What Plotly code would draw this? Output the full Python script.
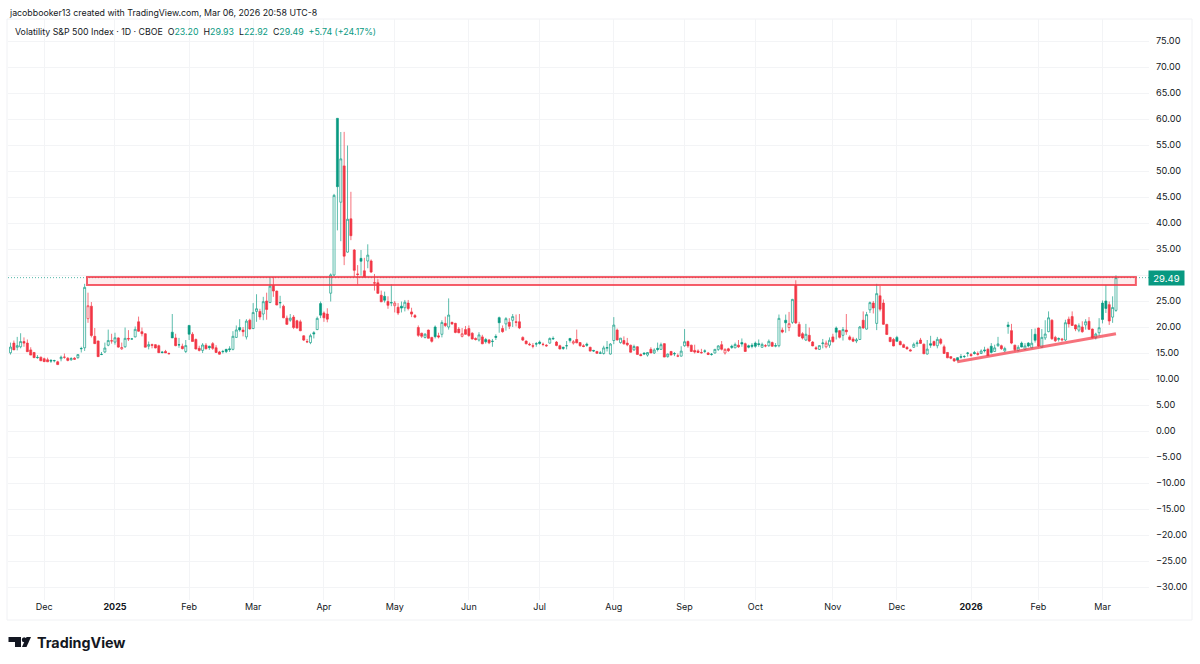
import pandas as pd
import plotly.graph_objects as go

# daily VIX candles, one line per month, Nov 15 2024 -> Mar 6 2026
opens = [
    15.05, 16.9, 16.1, 16.2, 17.2, 16.9, 15.6, 15.1, 14.1, 14.2,
    13.9, 13.7, 13.6, 13.5, 13.3, 13.9, 14.2, 14.0, 13.7, 14.0, 14.1, 15.8, 16.0, 21.6, 24.0, 18.2, 17.3, 14.7, 15.2, 16.5, 17.3,
    17.1, 17.9, 15.8, 16.2, 17.8, 17.7, 18.1, 21.0, 19.1, 18.7, 16.3, 16.6, 16.6, 16.4, 15.2, 15.3, 14.9, 19.0, 17.9, 16.6, 16.3, 15.3,
    20.3, 18.6, 17.6, 15.9, 15.5, 16.5, 16.3, 16.8, 16.0, 15.2, 15.3, 15.7, 15.8, 15.7, 18.0, 19.9, 19.4, 18.1, 21.3,
    19.7, 23.0, 23.0, 22.5, 25.0, 24.7, 28.0, 26.9, 24.7, 24.0, 21.7, 21.3, 21.9, 21.2, 21.0, 18.3, 17.2, 17.0, 18.9, 19.5, 24.5,
    22.7, 22.5, 26.5, 30.0, 60.13, 44.0, 50.98, 34.4, 40.8, 34.8, 30.2, 33.2, 30.8, 32.7, 32.7, 28.5, 28.5, 26.1, 25.9, 24.9, 24.6,
    24.1, 23.8, 24.0, 23.7, 24.6, 22.9, 22.2, 19.9, 18.8, 18.0, 19.4, 18.0, 20.0, 18.3, 18.6, 20.7, 20.0, 20.9, 20.7, 19.6, 18.2, 19.5,
    19.7, 18.8, 17.8, 17.5, 18.1, 17.6, 17.5, 17.2, 18.2, 21.8, 19.7, 20.6, 20.9, 21.3, 21.0, 21.0, 18.0, 17.3, 16.7, 16.4, 16.8,
    17.1, 16.7, 16.5, 16.9, 17.7, 17.1, 16.4, 16.1, 16.4, 17.8, 16.9, 17.6, 17.0, 16.4, 16.7, 16.1, 15.5, 15.3, 14.9, 14.9, 15.9, 14.8,
    17.4, 19.4, 17.0, 17.4, 16.9, 16.5, 15.6, 16.2, 14.7, 15.0, 14.6, 15.7, 15.0, 15.9, 15.7, 16.8, 14.3, 15.3, 14.9, 14.4, 14.4,
    16.4, 17.2, 16.5, 15.5, 15.4, 15.1, 15.4, 15.0, 14.7, 15.0, 15.7, 16.6, 15.0, 15.8, 16.3, 16.0, 16.5, 17.0, 16.8, 16.4, 16.5,
    16.9, 16.8, 16.1, 16.4, 16.4, 17.0, 16.3, 16.4, 19.4, 21.3, 19.9, 20.9, 28.0, 20.5, 18.7, 17.5, 18.4, 17.1, 16.0, 15.7, 16.8, 16.2, 16.5,
    18.1, 19.8, 19.3, 18.4, 19.4, 18.1, 17.7, 17.3, 17.6, 21.3, 19.6, 23.3, 24.6, 20.7, 26.0, 24.6, 20.5, 18.0, 17.6,
    18.0, 17.2, 16.6, 16.1, 15.6, 16.1, 16.8, 17.5, 16.7, 14.8, 16.8, 17.2, 16.4, 17.6, 16.2, 15.1, 14.3, 13.9, 14.1, 14.3, 14.3, 15.0,
    14.7, 15.1, 14.9, 14.9, 15.6, 15.7, 16.3, 15.3, 16.4, 16.4, 15.4, 20.4, 19.3, 16.5, 15.5, 16.9, 15.7, 16.9, 16.0, 18.6,
    19.8, 16.1, 17.9, 19.1, 21.3, 18.0, 17.6, 17.5, 17.5, 21.5, 22.0, 20.4, 19.4, 20.0, 20.4, 21.1, 19.6, 17.95, 18.9,
    24.6, 25.0, 24.3, 21.9, 23.20,
]
highs = [
    17.0, 17.4, 18.1, 18.8, 18.0, 17.6, 16.1, 15.2, 14.6, 14.3,
    14.1, 14.1, 13.8, 13.7, 13.5, 14.5, 14.9, 14.2, 14.2, 14.2, 14.8, 16.2, 28.3, 26.6, 24.8, 19.8, 17.4, 15.2, 17.0, 19.5, 18.7,
    18.9, 18.0, 17.0, 19.9, 19.4, 17.8, 20.1, 22.0, 19.9, 18.8, 17.2, 16.8, 16.7, 16.6, 15.4, 15.6, 15.1, 22.5, 18.7, 17.9, 16.8, 17.5,
    20.4, 19.0, 17.8, 16.4, 16.9, 16.9, 16.4, 17.1, 16.5, 15.4, 15.6, 15.8, 16.3, 19.2, 20.3, 21.5, 20.0, 21.5, 21.6,
    24.6, 26.3, 23.5, 25.8, 26.6, 29.6, 29.6, 27.0, 26.0, 24.3, 22.2, 22.5, 22.3, 21.4, 21.4, 18.4, 17.7, 18.7, 19.2, 22.0, 24.9,
    23.0, 23.6, 30.3, 45.6, 60.13, 57.5, 57.52, 54.9, 46.0, 35.0, 31.9, 34.8, 33.3, 35.9, 33.0, 30.2, 29.2, 27.0, 26.8, 25.9, 28.2,
    25.0, 24.6, 24.9, 25.2, 25.2, 23.7, 22.5, 20.3, 18.9, 18.8, 19.5, 18.1, 20.3, 18.9, 21.3, 22.0, 25.5, 21.0, 20.8, 20.0, 19.8, 20.2,
    20.3, 19.0, 18.0, 19.0, 18.5, 17.9, 17.7, 17.7, 18.6, 22.0, 20.3, 21.9, 21.7, 22.5, 22.4, 22.5, 18.2, 17.4, 17.0, 16.9, 17.1,
    17.4, 17.0, 16.7, 18.0, 18.2, 17.3, 16.6, 16.2, 17.3, 17.9, 17.5, 19.5, 17.1, 16.7, 17.0, 16.2, 15.6, 15.4, 15.4, 16.4, 17.3, 16.9,
    21.9, 19.7, 17.9, 18.2, 17.9, 16.6, 16.6, 16.3, 14.9, 15.1, 15.2, 16.1, 15.9, 17.0, 17.0, 16.9, 14.9, 15.4, 15.2, 14.9, 16.3,
    19.6, 17.4, 16.6, 16.6, 15.7, 15.8, 15.7, 15.2, 15.0, 15.8, 16.5, 17.3, 15.9, 16.0, 16.6, 17.0, 17.5, 17.8, 17.0, 16.6, 16.9,
    17.2, 17.6, 17.0, 16.7, 17.6, 17.2, 16.9, 22.4, 19.9, 22.4, 22.9, 25.4, 28.99, 21.0, 19.0, 20.6, 19.9, 17.3, 16.3, 16.5, 17.7, 17.4, 18.0,
    18.7, 20.1, 19.4, 20.0, 22.5, 18.4, 18.1, 17.9, 20.2, 23.0, 22.9, 24.9, 25.0, 28.3, 27.9, 25.3, 20.6, 18.1, 17.9,
    18.3, 17.4, 16.8, 16.3, 15.8, 17.0, 17.4, 17.9, 16.8, 17.5, 18.3, 17.4, 18.1, 17.9, 16.6, 15.2, 14.4, 14.0, 14.2, 14.8, 14.6, 15.2,
    15.0, 15.4, 15.3, 15.7, 16.2, 16.0, 16.9, 16.6, 18.1, 16.6, 16.2, 21.0, 20.6, 16.6, 16.5, 17.2, 16.9, 17.1, 19.6, 19.7,
    19.9, 19.6, 21.3, 23.0, 21.5, 18.3, 18.0, 17.9, 21.4, 22.0, 23.0, 20.5, 20.7, 21.1, 21.5, 21.9, 19.7, 18.9, 21.7,
    25.1, 28.1, 24.9, 25.9, 29.93,
]
lows = [
    14.7, 15.6, 15.5, 15.9, 16.2, 15.2, 14.6, 14.1, 13.9, 13.5,
    13.3, 13.3, 13.1, 13.2, 12.7, 13.4, 13.9, 13.4, 13.5, 13.7, 13.9, 15.1, 15.4, 20.8, 18.0, 16.8, 14.3, 14.6, 15.0, 16.3, 16.8,
    16.6, 16.0, 15.6, 16.0, 17.3, 17.6, 18.0, 19.1, 18.2, 16.1, 15.7, 15.9, 15.9, 15.0, 14.9, 15.0, 14.8, 17.9, 16.3, 16.0, 15.7, 15.0,
    17.5, 17.2, 15.7, 15.3, 15.0, 15.7, 15.6, 15.6, 15.0, 14.7, 14.9, 15.0, 15.2, 15.5, 17.9, 19.1, 18.2, 17.6, 19.5,
    19.6, 21.0, 21.4, 21.3, 21.4, 24.6, 25.8, 24.2, 23.6, 21.7, 20.4, 21.0, 19.6, 19.7, 19.2, 17.3, 16.9, 16.7, 17.8, 19.4, 21.7,
    21.0, 20.9, 24.9, 29.8, 38.58, 36.5, 31.9, 34.3, 36.7, 29.6, 28.2, 29.9, 29.5, 31.3, 30.4, 27.0, 26.4, 24.8, 24.7, 23.5, 24.0,
    22.8, 22.3, 22.8, 23.0, 23.2, 21.9, 21.7, 18.1, 17.9, 17.8, 17.8, 17.0, 17.8, 17.8, 18.0, 20.0, 19.5, 20.4, 18.8, 18.8, 18.0, 18.5,
    18.1, 17.6, 17.4, 17.2, 16.7, 16.8, 16.7, 16.2, 17.5, 18.9, 18.9, 19.3, 19.6, 20.0, 20.1, 19.6, 17.3, 16.7, 16.4, 15.9, 16.2,
    16.6, 16.3, 16.2, 16.8, 17.5, 16.3, 15.7, 15.6, 15.7, 17.0, 16.6, 16.9, 16.2, 16.1, 16.2, 15.3, 15.2, 14.9, 14.8, 14.7, 15.3, 14.7,
    16.7, 17.4, 16.8, 16.6, 16.3, 15.1, 15.4, 14.7, 14.4, 14.6, 14.3, 15.0, 14.8, 15.3, 15.6, 14.2, 14.1, 14.5, 14.4, 14.2, 14.3,
    16.2, 16.0, 15.2, 14.9, 15.0, 14.9, 15.0, 14.6, 14.5, 14.9, 15.4, 15.5, 14.7, 15.2, 15.8, 15.9, 16.0, 16.2, 15.3, 15.9, 15.9,
    16.0, 16.2, 16.0, 16.1, 16.2, 16.2, 16.1, 16.1, 18.8, 18.9, 19.2, 20.6, 20.6, 18.1, 17.6, 17.3, 17.1, 16.3, 15.7, 15.6, 15.9, 15.9, 16.0,
    17.0, 17.6, 17.8, 17.4, 18.5, 17.4, 17.1, 16.9, 17.5, 19.6, 19.5, 22.7, 22.6, 19.4, 23.0, 20.4, 18.5, 17.1, 16.3,
    17.2, 16.5, 16.0, 15.7, 15.3, 16.0, 16.2, 16.9, 14.8, 14.7, 16.0, 16.3, 15.9, 16.6, 14.8, 14.0, 13.8, 13.3, 13.4, 13.9, 14.0, 14.3,
    14.3, 14.7, 14.5, 14.8, 15.1, 14.4, 14.9, 15.2, 16.2, 15.6, 15.2, 18.7, 16.7, 15.3, 15.3, 16.1, 15.6, 16.1, 15.9, 17.0,
    16.2, 16.0, 17.5, 19.0, 17.5, 17.1, 17.2, 17.2, 17.3, 19.9, 20.2, 19.2, 19.0, 18.9, 19.5, 19.4, 17.8, 17.6, 18.3,
    20.7, 22.7, 20.4, 20.8, 22.92,
]
closes = [
    16.14, 15.6, 16.4, 17.2, 16.9, 15.25, 14.6, 14.1, 14.15, 13.5,
    13.34, 13.3, 13.45, 13.54, 12.77, 14.19, 14.18, 13.58, 13.92, 13.81, 14.69, 15.87, 27.62, 24.09, 18.36, 16.8, 14.3, 14.73, 15.95, 17.4, 17.35,
    17.93, 16.13, 16.04, 17.82, 17.7, 17.7, 19.54, 19.19, 18.71, 16.12, 16.6, 16.5, 15.97, 15.06, 15.1, 15.02, 14.85, 17.9, 16.41, 16.56, 15.84, 16.43,
    18.62, 17.21, 15.77, 15.5, 16.54, 15.81, 16.02, 15.89, 15.1, 14.77, 15.27, 15.27, 15.66, 18.21, 19.43, 19.43, 19.1, 21.13, 19.63,
    22.78, 23.51, 21.93, 24.87, 23.37, 27.86, 26.92, 24.23, 24.66, 21.77, 20.51, 21.7, 19.9, 19.8, 19.28, 17.48, 17.15, 18.33, 18.69, 21.65, 22.28,
    21.77, 21.51, 30.02, 45.31, 46.98, 52.33, 33.62, 40.72, 37.56, 30.89, 30.12, 32.64, 29.65, 33.82, 30.57, 28.45, 26.47, 24.84, 25.15, 24.17, 24.7,
    24.6, 22.68, 23.64, 24.76, 23.55, 22.48, 21.9, 18.39, 18.22, 18.62, 17.83, 17.24, 18.14, 18.09, 20.87, 20.28, 22.29, 20.6, 18.96, 18.9, 18.7, 18.6,
    18.36, 17.69, 17.61, 18.48, 16.77, 17.16, 16.95, 17.26, 18.02, 20.82, 19.11, 21.6, 20.14, 22.0, 20.9, 19.83, 17.48, 16.76, 16.59, 16.32, 16.73,
    16.83, 16.64, 16.38, 17.79, 17.8, 16.45, 15.78, 15.9, 16.4, 17.38, 17.16, 16.95, 16.41, 16.25, 16.5, 15.37, 15.39, 14.93, 15.03, 15.98, 16.05, 16.72,
    20.37, 17.52, 17.85, 16.77, 16.57, 15.15, 16.25, 14.73, 14.49, 14.83, 15.09, 15.0, 15.57, 15.69, 16.6, 14.22, 14.79, 14.62, 14.85, 14.43, 15.36,
    17.17, 16.35, 15.3, 15.18, 15.11, 15.04, 15.35, 14.71, 14.76, 15.69, 16.36, 15.72, 15.7, 15.45, 16.1, 16.64, 16.18, 16.74, 15.29, 16.12, 16.28,
    16.29, 16.63, 16.65, 16.37, 17.24, 16.3, 16.43, 21.66, 19.03, 20.81, 20.64, 25.31, 20.78, 18.23, 17.87, 18.6, 17.3, 16.37, 15.79, 16.42, 16.92, 16.91, 17.44,
    17.17, 19.0, 18.01, 19.5, 19.08, 17.6, 17.28, 17.51, 20.0, 19.83, 22.38, 24.69, 23.66, 26.42, 23.43, 20.52, 18.56, 17.19, 16.35,
    17.24, 16.59, 16.08, 15.78, 15.41, 16.66, 16.93, 16.85, 14.85, 15.74, 16.5, 16.48, 17.62, 16.87, 14.91, 14.08, 14.0, 13.47, 13.6, 14.2, 14.33, 14.95,
    14.51, 14.9, 14.75, 15.38, 15.45, 14.49, 15.12, 15.98, 16.75, 15.84, 15.86, 20.09, 16.9, 15.64, 16.09, 16.15, 16.35, 16.35, 16.88, 17.44,
    16.34, 18.0, 18.64, 21.77, 17.76, 17.36, 17.79, 17.65, 20.82, 20.6, 20.29, 19.62, 20.23, 19.09, 21.01, 19.55, 17.93, 18.63, 19.86,
    21.44, 23.57, 21.15, 23.75, 29.49,
]

# days the index did not print a bar
closed_days = ["2024-11-28", "2024-12-25", "2025-01-01", "2025-02-17", "2025-04-18", "2025-07-04",
               "2025-09-01", "2025-11-27", "2025-12-25", "2026-01-01", "2026-01-19", "2026-02-16"]

month_starts = ["2024-12-02", "2025-01-02", "2025-02-03", "2025-03-03", "2025-04-01", "2025-05-01", "2025-06-02", "2025-07-01",
                "2025-08-01", "2025-09-02", "2025-10-01", "2025-11-03", "2025-12-01", "2026-01-02", "2026-02-02", "2026-03-02"]
month_labels = ["Dec", "<b>2025</b>", "Feb", "Mar", "Apr", "May", "Jun", "Jul",
                "Aug", "Sep", "Oct", "Nov", "Dec", "<b>2026</b>", "Feb", "Mar"]
price_ticks = list(range(-30, 80, 5))

# drawn levels on the chart
zone_low, zone_high = 28.1, 29.6
zone_bars = (22.7, 333.9)
trend_values = (13.3, 18.7)
trend_bars = (280.9, 328)

UP = "#089981"
DOWN = "#F23645"
UP_LINE = "rgba(8,153,129,0.65)"
DOWN_LINE = "rgba(242,54,69,0.7)"
INK = "#131722"
GRID = "#F3F4F6"
FONT = "Inter"

# plot box in picture pixels
LEFT, RIGHT, TOP, BOTTOM = 8, 1149, 19, 600


def paper_x(px):
    return (px - LEFT) / (RIGHT - LEFT)


def paper_y(py):
    return (BOTTOM - py) / (BOTTOM - TOP)


def logo_path(points):
    return "M" + " L".join(f"{paper_x(x):.5f},{paper_y(y):.5f}" for x, y in points) + " Z"


def price_label(v):
    # the 30.00 label sits under the last price tag
    if v == 30:
        return ""
    return f"{v:.2f}".replace("-", "\u2212")


days = pd.bdate_range("2024-11-15", "2026-03-06")
days = days[~days.isin(pd.to_datetime(closed_days))]
df = pd.DataFrame({"date": days.strftime("%Y-%m-%d"), "open": opens, "high": highs, "low": lows, "close": closes})
df["prev"] = df["close"].shift(1).fillna(df["open"])

fig = go.Figure()
# hollow when close > open, colour from close vs previous close
for rising, colour, line in [(True, UP, UP_LINE), (False, DOWN, DOWN_LINE)]:
    part = df[(df["close"] >= df["prev"]) == rising]
    fig.add_trace(go.Candlestick(
        x=part["date"], open=part["open"], high=part["high"], low=part["low"], close=part["close"],
        increasing=dict(line=dict(color=line, width=1), fillcolor="rgba(255,255,255,0)"),
        decreasing=dict(line=dict(color=line, width=1), fillcolor=colour),
        showlegend=False,
    ))

fig.update_layout(
    width=1200, height=664, autosize=False,
    margin=dict(l=LEFT, r=1200 - RIGHT, t=TOP, b=664 - BOTTOM, autoexpand=False),
    paper_bgcolor="white", plot_bgcolor="white",
    font=dict(family=FONT, size=9, color=INK),
    boxgap=0.15, showlegend=False,
)
fig.update_xaxes(
    type="category", categoryorder="array", categoryarray=list(df["date"]),
    range=[-0.74, 337.8], rangeslider_visible=False,
    tickmode="array", tickvals=month_starts, ticktext=month_labels,
    showgrid=True, gridcolor=GRID, gridwidth=1, zeroline=False, showline=False, ticks="",
    tickangle=0, tickfont=dict(family=FONT, size=9, color=INK),
)
fig.update_yaxes(
    side="right", range=[(431 - BOTTOM) / 5.2, (431 - TOP) / 5.2],
    tickmode="array", tickvals=price_ticks, ticktext=[price_label(v) for v in price_ticks],
    showgrid=True, gridcolor=GRID, gridwidth=1, zeroline=False, showline=False, ticks="",
    ticklabelstandoff=6, tickfont=dict(family=FONT, size=9.2, color=INK),
)

# frame round plot and both axes
fig.add_shape(type="rect", xref="paper", yref="paper", layer="below",
              x0=paper_x(7), x1=paper_x(1192), y0=paper_y(620), y1=paper_y(19),
              line=dict(color="#F0F1F4", width=1), fillcolor="rgba(0,0,0,0)")
# last price line
fig.add_shape(type="line", xref="paper", yref="y", x0=0, x1=1, y0=closes[-1], y1=closes[-1],
              line=dict(color="rgba(8,153,129,0.7)", width=1, dash="1px,2px"))
# resistance zone
fig.add_shape(type="rect", xref="x", yref="y", x0=zone_bars[0], x1=zone_bars[1], y0=zone_low, y1=zone_high,
              line=dict(color="rgba(242,54,69,0.8)", width=2), fillcolor="rgba(242,54,69,0.1)")
# rising support
fig.add_shape(type="line", xref="x", yref="y", x0=trend_bars[0], x1=trend_bars[1],
              y0=trend_values[0], y1=trend_values[1], line=dict(color="rgba(242,54,69,0.7)", width=3))

# TradingView mark
fig.add_shape(type="path", xref="paper", yref="paper", fillcolor="#131722", line=dict(width=0),
              path=logo_path([(8.5, 637), (21, 637), (21, 647), (15, 647), (15, 642), (8.5, 642)]))
fig.add_shape(type="circle", xref="paper", yref="paper", fillcolor="#131722", line=dict(width=0),
              x0=paper_x(21.8), x1=paper_x(26.6), y0=paper_y(642.2), y1=paper_y(637.2))
fig.add_shape(type="path", xref="paper", yref="paper", fillcolor="#131722", line=dict(width=0),
              path=logo_path([(26.5, 637), (31, 637), (26.5, 647), (22, 647)]))

GREEN = f"<span style='color:{UP}'>"
header = (f"Volatility S&P 500 Index · 1D · CBOE  O{GREEN}{opens[-1]:.2f}</span>  H{GREEN}{highs[-1]:.2f}</span>"
          f"  L{GREEN}{lows[-1]:.2f}</span>  C{GREEN}{closes[-1]:.2f}</span>  {GREEN}+5.74 (+24.17%)</span>")
notes = [
    dict(x=paper_x(7), y=paper_y(13), text="jacobbooker13 created with TradingView.com, Mar 06, 2026 20:58 UTC-8", size=8.8),
    dict(x=paper_x(13), y=paper_y(32), text=header, size=8.8),
    dict(x=paper_x(35), y=paper_y(642), text="<b>TradingView</b>", size=14.3),
]
for n in notes:
    fig.add_annotation(xref="paper", yref="paper", x=n["x"], y=n["y"], text=n["text"], showarrow=False,
                       xanchor="left", yanchor="middle", align="left", font=dict(family=FONT, size=n["size"], color=INK))
fig.add_annotation(xref="paper", yref="y", x=paper_x(1166.5), y=closes[-1], text=f"{closes[-1]:.2f}", showarrow=False,
                   xanchor="center", yanchor="middle", width=35, height=14, align="center", borderpad=0,
                   bgcolor=UP, font=dict(family=FONT, size=9.5, color="white"))

fig.write_html("out.html", post_script="document.body.style.margin='0';", config={"displayModeBar": False})
